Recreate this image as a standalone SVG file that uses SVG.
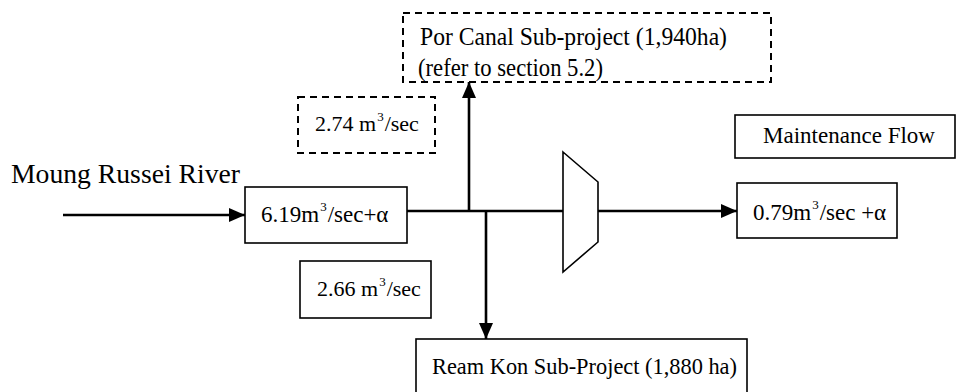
<svg xmlns="http://www.w3.org/2000/svg" width="975" height="392" viewBox="0 0 975 392">
  <style>
    .box { fill: #ffffff; stroke: #000000; stroke-width: 1.6; }
    .dash { fill: #ffffff; stroke: #000000; stroke-width: 2; stroke-dasharray: 7 5; }
    .conn { fill: none; stroke: #000000; stroke-width: 2.6; }
    .t { font-family: "Liberation Serif", "Times New Roman", serif; fill: #000000; font-size: 24px; }
    .sup { font-size: 13px; }
  </style>
  <defs>
    <marker id="arrow" markerUnits="userSpaceOnUse" markerWidth="16" markerHeight="14" viewBox="0 0 16 14" refX="16" refY="7" orient="auto">
      <path d="M0,0 L16,7 L0,14 Z" fill="#000000"/>
    </marker>
  </defs>
  <rect width="975" height="392" fill="#ffffff"/>

  <g id="connectors">
    <line class="conn" x1="63" y1="215" x2="245" y2="215" marker-end="url(#arrow)"/>
    <line class="conn" x1="407" y1="211" x2="563" y2="211"/>
    <line class="conn" x1="469" y1="211" x2="469" y2="82" marker-end="url(#arrow)"/>
    <line class="conn" x1="486" y1="211" x2="486" y2="339" marker-end="url(#arrow)"/>
    <line class="conn" x1="598" y1="211" x2="737" y2="211" marker-end="url(#arrow)"/>
  </g>

  <g id="river-label">
    <text class="t" x="11" y="183" style="font-size:27px" textLength="229" lengthAdjust="spacingAndGlyphs">Moung Russei River</text>
  </g>

  <g id="por-canal">
    <rect class="dash" x="403" y="13" width="368" height="69"/>
    <text class="t" x="420" y="45" style="font-size:25px" textLength="307" lengthAdjust="spacingAndGlyphs">Por Canal Sub-project (1,940ha)</text>
    <text class="t" x="418" y="76" style="font-size:25px" textLength="185" lengthAdjust="spacingAndGlyphs">(refer to section 5.2)</text>
  </g>

  <g id="flow-274">
    <rect class="dash" x="298" y="97" width="137" height="56"/>
    <text class="t" x="315" y="131" style="font-size:22px">2.74 m<tspan class="sup" dx="1" dy="-10">3</tspan><tspan dx="1" dy="10">/sec</tspan></text>
  </g>

  <g id="maintenance-flow">
    <rect class="box" x="735" y="115" width="220" height="43"/>
    <text class="t" x="763" y="143" textLength="172" lengthAdjust="spacingAndGlyphs">Maintenance Flow</text>
  </g>

  <g id="inflow">
    <rect class="box" x="245" y="187" width="162" height="56"/>
    <text class="t" x="261" y="222" style="font-size:23px">6.19m<tspan class="sup" dx="1" dy="-11">3</tspan><tspan dx="1" dy="11">/sec+α</tspan></text>
  </g>

  <g id="weir">
    <polygon points="563,152 598,182 598,242 563,272" fill="#ffffff" stroke="#000000" stroke-width="1.6"/>
  </g>

  <g id="outflow">
    <rect class="box" x="737" y="183" width="160" height="55"/>
    <text class="t" x="753" y="220" style="font-size:23px">0.79m<tspan class="sup" dx="1" dy="-11">3</tspan><tspan dx="1" dy="11">/sec +α</tspan></text>
  </g>

  <g id="flow-266">
    <rect class="box" x="300" y="261" width="131" height="57"/>
    <text class="t" x="317" y="296" style="font-size:22px">2.66 m<tspan class="sup" dx="1" dy="-10">3</tspan><tspan dx="1" dy="10">/sec</tspan></text>
  </g>

  <g id="ream-kon">
    <rect class="box" x="416" y="339" width="331" height="60"/>
    <text class="t" x="432" y="374" textLength="305" lengthAdjust="spacingAndGlyphs">Ream Kon Sub-Project (1,880 ha)</text>
  </g>
</svg>
